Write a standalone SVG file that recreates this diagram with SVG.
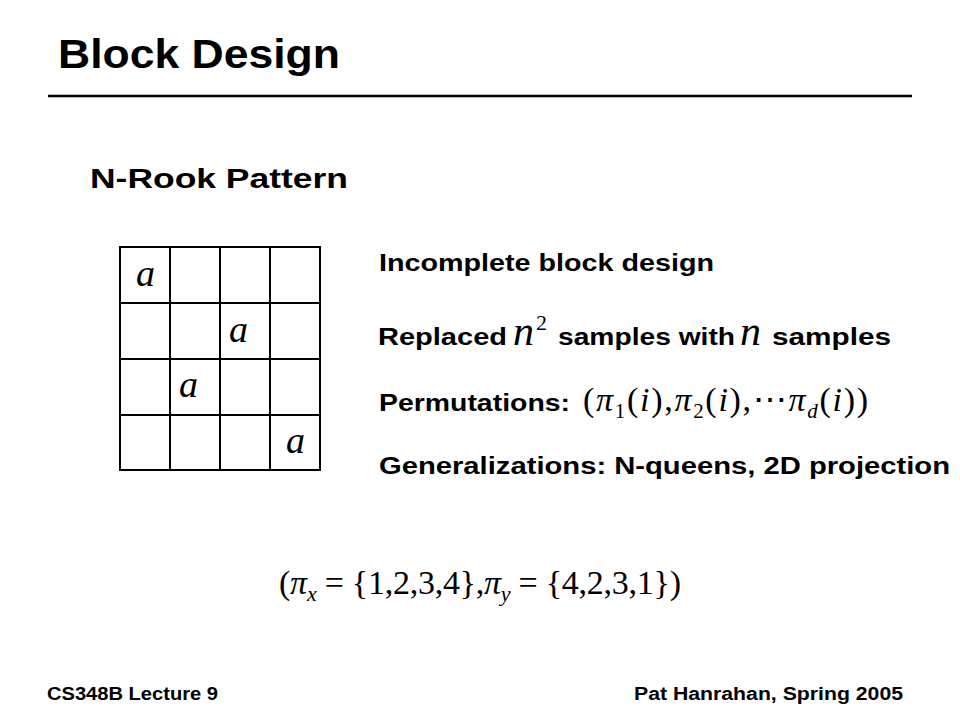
<svg xmlns="http://www.w3.org/2000/svg" width="960" height="720" viewBox="0 0 960 720">
<style>
.h{font-family:"Liberation Sans",Arial,sans-serif;font-weight:bold;fill:#000}
.m{font-family:"Liberation Serif","Times New Roman",serif;font-weight:normal;fill:#000}
.i{font-style:italic}
.g{stroke:#000;stroke-width:2;fill:none}
</style>
<rect width="960" height="720" fill="#fff"/>
<g id="title">
<text class="h" x="58" y="68" font-size="41" textLength="282" lengthAdjust="spacingAndGlyphs">Block Design</text>
<line x1="48" y1="96" x2="912" y2="96" stroke="#000" stroke-width="2.5"/>
</g>
<g id="subtitle">
<text class="h" x="90" y="188" font-size="27" textLength="258" lengthAdjust="spacingAndGlyphs">N-Rook Pattern</text>
</g>
<g id="grid">
<rect class="g" x="120" y="247" width="200" height="223"/>
<line class="g" x1="170" y1="247" x2="170" y2="470"/>
<line class="g" x1="220" y1="247" x2="220" y2="470"/>
<line class="g" x1="270" y1="247" x2="270" y2="470"/>
<line class="g" x1="120" y1="303" x2="320" y2="303"/>
<line class="g" x1="120" y1="359" x2="320" y2="359"/>
<line class="g" x1="120" y1="415" x2="320" y2="415"/>
<text class="m i" x="136" y="286" font-size="38">a</text>
<text class="m i" x="229" y="342" font-size="38">a</text>
<text class="m i" x="179" y="397" font-size="38">a</text>
<text class="m i" x="286" y="453" font-size="38">a</text>
</g>
<g id="bullets">
<text class="h" x="379" y="271" font-size="23" textLength="335" lengthAdjust="spacingAndGlyphs">Incomplete block design</text>
<text class="h" x="378" y="345" font-size="23"><tspan textLength="129" lengthAdjust="spacingAndGlyphs">Replaced</tspan><tspan class="m i" x="513" font-size="42">n</tspan><tspan class="m" x="536" font-size="22" dy="-15">2</tspan><tspan x="558" dy="15" textLength="177" lengthAdjust="spacingAndGlyphs">samples with</tspan><tspan class="m i" x="740" font-size="42">n</tspan><tspan x="772" textLength="119" lengthAdjust="spacingAndGlyphs">samples</tspan></text>
<text class="h" x="379" y="411" font-size="23" textLength="191" lengthAdjust="spacingAndGlyphs">Permutations:</text>
<text class="m" x="583" y="411" font-size="34" textLength="285" lengthAdjust="spacing">(<tspan class="i">π</tspan><tspan font-size="21" dy="7">1</tspan><tspan dy="-7">(</tspan><tspan class="i">i</tspan>),<tspan class="i">π</tspan><tspan font-size="21" dy="7">2</tspan><tspan dy="-7">(</tspan><tspan class="i">i</tspan>),⋯<tspan class="i">π</tspan><tspan class="i" font-size="21" dy="7">d</tspan><tspan dy="-7">(</tspan><tspan class="i">i</tspan>))</text>
<text class="h" x="379" y="474" font-size="23" textLength="571" lengthAdjust="spacingAndGlyphs">Generalizations: N-queens, 2D projection</text>
</g>
<g id="formula">
<text class="m" x="279" y="594" font-size="34" textLength="402" lengthAdjust="spacing">(<tspan class="i">π</tspan><tspan class="i" font-size="22" dy="7">x</tspan><tspan dy="-7"> = {1,2,3,4},</tspan><tspan class="i">π</tspan><tspan class="i" font-size="22" dy="7">y</tspan><tspan dy="-7"> = {4,2,3,1})</tspan></text>
</g>
<g id="footer">
<text class="h" x="47" y="700" font-size="18" textLength="171" lengthAdjust="spacingAndGlyphs">CS348B Lecture 9</text>
<text class="h" x="634" y="700" font-size="18" textLength="269" lengthAdjust="spacingAndGlyphs">Pat Hanrahan, Spring 2005</text>
</g>
</svg>
